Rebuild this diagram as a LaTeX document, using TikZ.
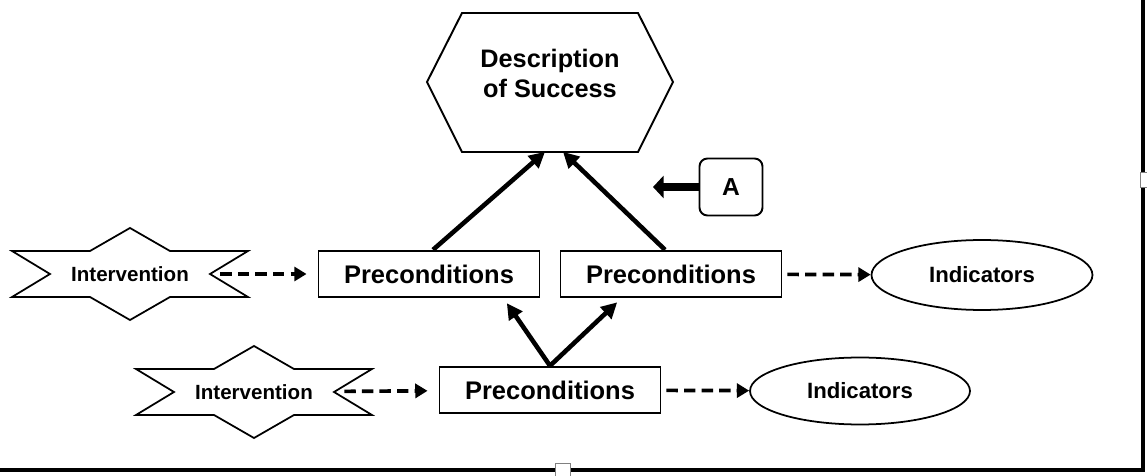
\documentclass[tikz,border=0pt]{standalone}
\usepackage{fontspec}
\setmainfont{Liberation Sans}
\usetikzlibrary{arrows.meta,shapes.geometric}

\begin{document}
\begin{tikzpicture}
[x=0.02cm, y=-0.02cm, font=\bfseries]
\tikzstyle{pre}=[rectangle, draw, line width=1.1pt, minimum width=4.42cm, minimum height=0.93cm, font=\fontsize{14.5}{17}\selectfont\bfseries]
\tikzstyle{ind}=[ellipse, draw, line width=1pt, font=\fontsize{12.6}{15}\selectfont\bfseries]
\tikzstyle{interv}=[inner sep=0pt, minimum width=3.6cm, minimum height=1.84cm, font=\fontsize{11.7}{14}\selectfont\bfseries]
\tikzstyle{link}=[line width=2.6pt, -{Triangle[length=9pt,width=9pt]}]
\tikzstyle{weak}=[line width=2.1pt, dash pattern=on 6.5pt off 3.5pt, -{Triangle[length=7pt,width=8pt]}]
\useasboundingbox (0,0) rectangle (1147,476);

% goal
\node[minimum width=4.9cm, minimum height=2.78cm, align=center, text depth=10pt,
      font=\fontsize{14.4}{17}\selectfont\bfseries] (D) at (550,82) {Description\\of Success};
\draw[line width=1.1pt] (D.center) ++(-88,-69) -- ++(176,0) -- ++(35,69) -- ++(-35,70) -- ++(-176,0) -- ++(-35,-70) -- cycle;

% upper row
\node[interv] (I1) at (130,274) {Intervention};
\node[pre]    (P1) at (429,274) {Preconditions};
\node[pre]    (P2) at (671,274) {Preconditions};
\node[ind, minimum width=4.42cm, minimum height=1.4cm] (E1) at (982,275) {Indicators};

% lower row
\node[interv] (I2) at (254,392) {Intervention};
\node[pre]    (P3) at (550,390) {Preconditions};
\node[ind, minimum width=4.4cm, minimum height=1.34cm] (E2) at (860,391) {Indicators};

\node[draw, rounded corners=4.5pt, line width=1.1pt, minimum width=1.26cm, minimum height=1.14cm,
      font=\fontsize{14}{17}\selectfont\bfseries] (A) at (731,187) {A};
\coordinate (At) at (653,187);

\foreach \s in {I1,I2}
  \draw[line width=1pt] (\s.center) ++(-118,-23) -- ++(78,0) -- ++(40,-23) -- ++(40,23) -- ++(78,0) -- ++(-38,23)
    -- ++(38,23) -- ++(-78,0) -- ++(-40,23) -- ++(-40,-23) -- ++(-78,0) -- ++(38,-23) -- cycle;

\draw[link] ([xshift=0.08cm]P1.north) -- ([xshift=-0.1cm]D.south);
\draw[link] ([xshift=-0.12cm]P2.north) -- ([xshift=0.26cm]D.south);
\draw[link, shorten >=0.12cm] (P3.north) -- ([xshift=-0.74cm]P1.south east);
\draw[link, shorten >=0.12cm] (P3.north) -- ([xshift=1.24cm]P2.south west);
\draw[line width=4.5pt, -{Triangle[length=6pt,width=12.5pt]}] (A) -- (At);

\draw[weak, shorten >=0.22cm] (I1) -- (P1);
\draw[weak, shorten <=0.1cm]  (P2) -- (E1);
\draw[weak, shorten >=0.22cm] (I2) -- (P3);
\draw[weak, shorten <=0.1cm]  (P3) -- (E2);

% frame
\draw[line width=2.3pt] (1143,0) -- (1143,470) -- (0,470);
\draw[gray, fill=white, line width=0.4pt] (1140,172) rectangle (1148,187);
\draw[gray, fill=white, line width=0.4pt] (555,463) rectangle (570,477);
\end{tikzpicture}
\end{document}
